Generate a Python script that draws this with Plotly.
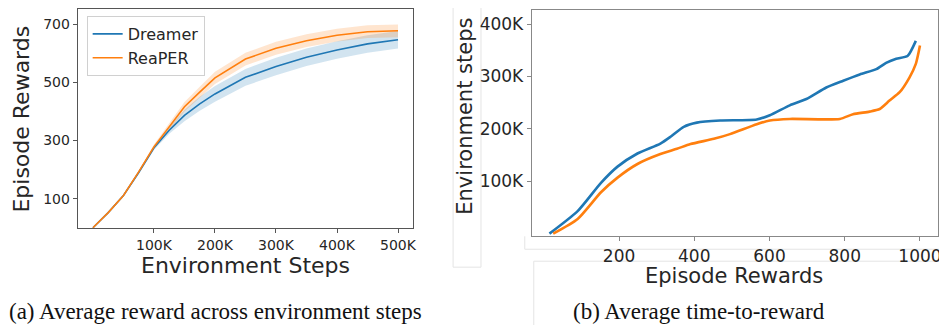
import plotly.graph_objects as go

W, H = 947, 325
OFF = 8  # page body margin offset in the browser
FW, FH = W - OFF, H - OFF

# ---- Left panel data: average reward across environment steps ----
steps = [0, 25000, 50000, 75000, 100000, 125000, 150000, 175000, 200000,
         250000, 300000, 350000, 400000, 450000, 500000]
dreamer_mean = [0, 52, 111, 190, 275, 335, 386, 426, 460, 517, 554, 586, 611, 632, 646]
dreamer_std = [0, 2, 3, 5, 8, 12, 20, 24, 27, 29, 30, 30, 30, 30, 30]
reaper_mean = [0, 52, 111, 192, 278, 345, 416, 466, 515, 580, 617, 643, 662, 674, 677]
reaper_std = [0, 2, 3, 5, 8, 12, 16, 19, 21, 22, 22, 22, 22, 22, 22]

left_xticks = [100000, 200000, 300000, 400000, 500000]
left_xtick_text = ["100K", "200K", "300K", "400K", "500K"]
left_yticks = [100, 300, 500, 700]

# ---- Right panel data: average time-to-reward ----
dreamer_rewards = [15, 90, 152, 196, 249, 310, 337, 372, 407, 469, 566, 601, 654,
                   698, 751, 796, 840, 884, 910, 937, 967, 989]
dreamer_steps = [0, 43000, 97000, 128000, 153000, 172000, 185000, 204000, 212000,
                 216000, 218000, 226000, 245000, 257000, 279000, 292000, 304000,
                 314000, 326000, 334000, 339000, 368000]
reaper_rewards = [25, 90, 152, 196, 249, 310, 354, 390, 452, 495, 566, 601, 654,
                  787, 822, 866, 893, 919, 946, 972, 989, 1000]
reaper_steps = [0, 28000, 79000, 107000, 133000, 152000, 162000, 171000, 181000,
                190000, 209000, 216000, 219000, 219000, 228000, 233000, 238000,
                254000, 270000, 298000, 324000, 359000]

right_xticks = [200, 400, 600, 800, 1000]
right_yticks = [100000, 200000, 300000, 400000]
right_ytick_text = ["100K", "200K", "300K", "400K"]

BLUE = "#1f77b4"
ORANGE = "#ff7f0e"
BLUE_FILL = "rgba(31,119,180,0.2)"
ORANGE_FILL = "rgba(255,127,14,0.2)"


def px_x(p):
    return (p - OFF) / FW


def px_y(p):
    return 1 - (p - OFF) / FH


fig = go.Figure()

# bands
for mean, std, fill in [(dreamer_mean, dreamer_std, BLUE_FILL), (reaper_mean, reaper_std, ORANGE_FILL)]:
    upper = [m + s for m, s in zip(mean, std)]
    lower = [m - s for m, s in zip(mean, std)]
    fig.add_trace(go.Scatter(x=steps + steps[::-1], y=upper + lower[::-1], fill="toself",
                             fillcolor=fill, line=dict(width=0), mode="lines",
                             showlegend=False, hoverinfo="skip", xaxis="x", yaxis="y"))

fig.add_trace(go.Scatter(x=steps, y=dreamer_mean, mode="lines", name="Dreamer",
                         line=dict(color=BLUE, width=1.6), xaxis="x", yaxis="y"))
fig.add_trace(go.Scatter(x=steps, y=reaper_mean, mode="lines", name="ReaPER",
                         line=dict(color=ORANGE, width=1.6), xaxis="x", yaxis="y"))

fig.add_trace(go.Scatter(x=dreamer_rewards, y=dreamer_steps, mode="lines", name="Dreamer",
                         line=dict(color=BLUE, width=2.6, shape="spline", smoothing=0.6),
                         showlegend=False, xaxis="x2", yaxis="y2"))
fig.add_trace(go.Scatter(x=reaper_rewards, y=reaper_steps, mode="lines", name="ReaPER",
                         line=dict(color=ORANGE, width=2.6, shape="spline", smoothing=0.6),
                         showlegend=False, xaxis="x2", yaxis="y2"))

axis_common = dict(showgrid=False, zeroline=False, showline=True, mirror=True,
                   ticks="outside", ticklen=4)

fig.update_layout(
    width=FW, height=FH,
    margin=dict(l=0, r=0, t=0, b=0),
    paper_bgcolor="white", plot_bgcolor="white",
    font=dict(family="DejaVu Sans", color="#262626"),
    xaxis=dict(domain=[px_x(78), px_x(415)], anchor="y", range=[-25000, 525000],
               tickvals=left_xticks, ticktext=left_xtick_text,
               linecolor="#555", tickcolor="#555", linewidth=1,
               tickfont=dict(size=14), **axis_common),
    yaxis=dict(domain=[px_y(228), px_y(8)], anchor="x", range=[-2, 752],
               tickvals=left_yticks, linecolor="#555", tickcolor="#555", linewidth=1,
               tickfont=dict(size=14), **axis_common),
    xaxis2=dict(domain=[px_x(534), px_x(942)], anchor="y2", range=[-32, 1048],
                tickvals=right_xticks, linecolor="#888", tickcolor="#888", linewidth=1.2,
                tickfont=dict(size=17), **axis_common),
    yaxis2=dict(domain=[px_y(236), px_y(9)], anchor="x2", range=[-5000, 427000],
                tickvals=right_yticks, ticktext=right_ytick_text,
                linecolor="#888", tickcolor="#888", linewidth=1.2,
                tickfont=dict(size=17), **axis_common),
    legend=dict(x=px_x(87), y=px_y(15), xanchor="left", yanchor="top",
                bgcolor="rgba(255,255,255,0.8)", bordercolor="#d0d0d0", borderwidth=1,
                font=dict(size=16, color="#262626"), tracegroupgap=0),
)

annotations = [
    dict(text="Episode Rewards", x=px_x(22), y=px_y(118), textangle=-90, font=dict(size=22)),
    dict(text="Environment Steps", x=px_x(247), y=px_y(265), font=dict(size=22)),
    dict(text="Environment steps", x=px_x(467), y=px_y(116), textangle=-90, font=dict(size=21)),
    dict(text="Episode Rewards", x=px_x(737), y=px_y(276), font=dict(size=21)),
    dict(text="(a) Average reward across environment steps", x=px_x(216), y=px_y(311),
         font=dict(size=23, family="Liberation Serif", color="#111")),
    dict(text="(b) Average time-to-reward", x=px_x(702), y=px_y(311),
         font=dict(size=23, family="Liberation Serif", color="#111")),
]
for a in annotations:
    a.update(xref="paper", yref="paper", showarrow=False, xanchor="center", yanchor="middle")
fig.update_layout(annotations=annotations)

# faint framing artefacts around the right panel
shapes = [
    dict(type="rect", x0=px_x(455), x1=px_x(483), y0=px_y(267), y1=px_y(-2)),
    dict(type="line", x0=px_x(527), x1=px_x(527), y0=px_y(236), y1=px_y(249)),
    dict(type="line", x0=px_x(527), x1=px_x(945), y0=px_y(249), y1=px_y(249)),
    dict(type="line", x0=px_x(536), x1=px_x(945), y0=px_y(261), y1=px_y(261)),
    dict(type="line", x0=px_x(536), x1=px_x(536), y0=px_y(261), y1=px_y(330)),
]
for s in shapes:
    s.update(xref="paper", yref="paper", line=dict(color="#e4e4e4", width=1), layer="below")
fig.update_layout(shapes=shapes)

fig.write_html("out.html")
